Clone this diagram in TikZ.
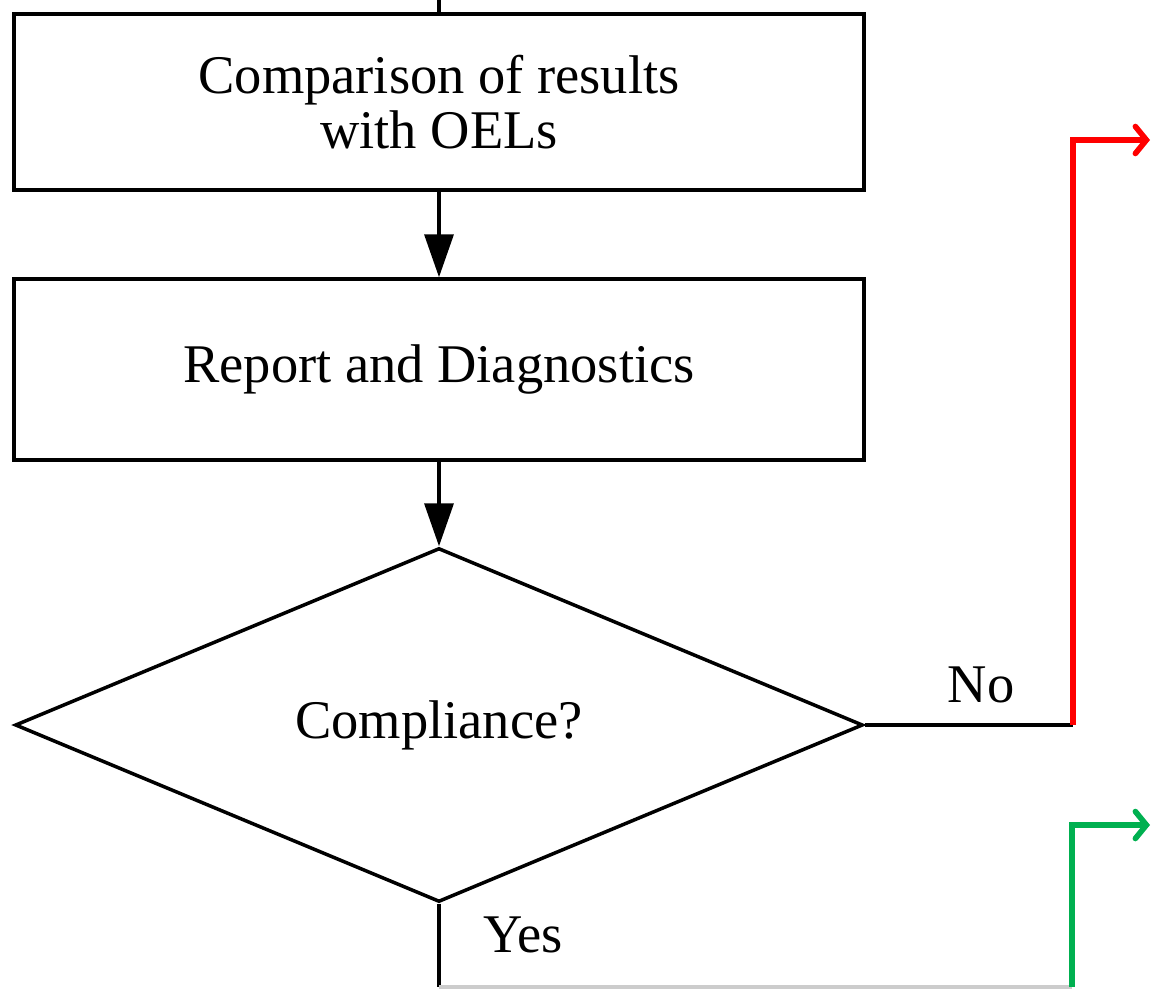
\documentclass[tikz,border=0pt]{standalone}
\usepackage{fontspec}
\setmainfont{Liberation Serif}
\usetikzlibrary{shapes.geometric, arrows.meta}
\definecolor{yesgreen}{RGB}{0,176,80}

\begin{document}
\begin{tikzpicture}[x=0.02cm, y=-0.02cm,
    every node/.style={font=\fontsize{31}{31.3}\selectfont},
    stepbox/.style={draw, line width=2pt, minimum width=17cm, align=center, inner sep=0},
    decision/.style={draw, diamond, line width=2pt, aspect=2.4, minimum width=16.96cm, minimum height=7.08cm, inner sep=0},
    flow/.style={line width=2pt, -{Triangle[length=0.86cm, width=0.58cm]}},
    branch/.style={line width=3.2pt, -{Straight Barb[length=0.22cm, width=0.54cm, line cap=round]}}]
    \useasboundingbox (0,0) rectangle (1152,990);
    \coordinate (in) at (439,0);
    \node[stepbox, minimum height=3.52cm] (compare) at (439,102) {Comparison of results\\with OELs};
    \node[stepbox, minimum height=3.62cm] (report) at (439,369.5) {Report and Diagnostics};
    \node[decision] (check) at (439,725) {Compliance?};
    \draw[line width=2pt] (in) -- (compare);
    \draw[flow] (compare) -- (report);
    \draw[flow] (report) -- (check);
    \coordinate (noturn) at (1073,725);
    \coordinate (noend) at (1150,140);
    \coordinate (yesturn) at (439,987);
    \coordinate (yesfoot) at (1072,987);
    \coordinate (yesend) at (1150,825);
    \draw[line width=2pt] (check.east) -- (noturn);
    \draw[branch, red] (noturn) |- (noend);
    \node (nolabel) at (981,685) {No};
    \draw[line width=2pt] (check.south) -- (yesturn);
    \draw[line width=2pt, black!20] (yesturn) -- (yesfoot);
    \draw[branch, yesgreen] (yesfoot) |- (yesend);
    \node (yeslabel) at (523,935) {Yes};
\end{tikzpicture}
\end{document}
